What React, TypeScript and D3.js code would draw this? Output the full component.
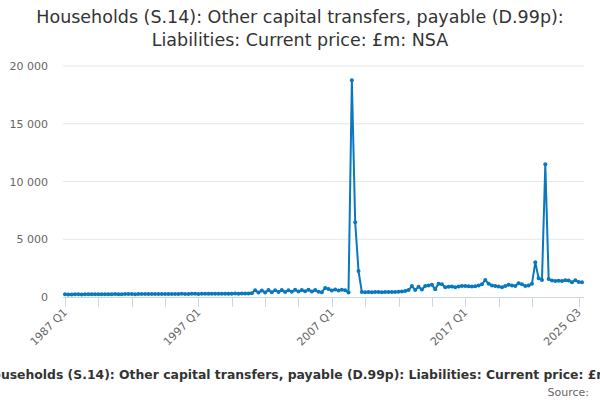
import React from "react";
import * as d3 from "d3";

const values: number[] = [
  // 1987-1991 (idx 0-19)
  230, 220, 225, 230, 235, 225, 230, 240, 235, 230, 240, 245, 235, 240, 245, 250, 240, 245, 250, 255,
  // idx 20-39
  250, 245, 255, 260, 250, 255, 260, 265, 255, 260, 265, 270, 260, 265, 270, 275, 265, 270, 275, 280,
  // idx 40-55
  270, 275, 280, 285, 275, 280, 285, 290, 280, 285, 290, 300, 290, 295, 300, 310,
  // idx 56-85
  320, 580, 380, 560, 400, 600, 420, 580, 440, 600, 430, 580, 460, 620, 470, 600, 500, 620, 480, 600,
  450, 420, 780, 700, 560, 640, 560, 620, 580, 400,
  // idx 86-100
  18760, 6470, 2250, 430, 420, 430, 420, 440, 430, 420, 430, 440, 430, 440, 450,
  // idx 101-124
  480, 520, 600, 950, 600, 880, 650, 950, 1000, 1050, 680, 1150, 1100, 850, 880, 900, 850, 900, 950, 950,
  920, 900, 920, 1000,
  // idx 125-154
  1100, 1480, 1150, 1000, 950, 900, 850, 950, 1050, 1000, 950, 1200, 1100, 950, 1000, 1150, 3000, 1620, 1480, 11490,
  1550, 1420, 1380, 1400, 1380, 1450, 1420, 1280, 1450, 1300, 1280,
];

const startYear = 1987;
const categories: string[] = values.map((_, i) => `${startYear + Math.floor(i / 4)} Q${(i % 4) + 1}`);
const yTicks: number[] = [0, 5000, 10000, 15000, 20000];
const tickIdx: number[] = [0, 10, 20, 30, 40, 50, 60, 70, 80, 90, 100, 110, 120, 130, 140, 154];
const labelIdx: number[] = [0, 40, 80, 120, 154];

const titleLines = [
  "Households (S.14): Other capital transfers, payable (D.99p):",
  "Liabilities: Current price: £m: NSA",
];
const caption =
  "Households (S.14): Other capital transfers, payable (D.99p): Liabilities: Current price: £m: NSA";

const FONT = "'DejaVu Sans', sans-serif";

export default function App() {
  const W = 600;
  const H = 400;
  const x = d3.scaleLinear().domain([0, values.length - 1]).range([65, 582]);
  const y = d3.scaleLinear().domain([0, 20000]).range([297, 66]);
  const line = d3
    .line<number>()
    .x((_, i) => x(i))
    .y((d) => y(d));
  const fmt = (v: number) => d3.format(",")(v).replace(/,/g, " ");
  const color = "#0a78be";

  return (
    <svg
      width={W}
      height={H}
      style={{ position: "absolute", left: 0, top: 0, fontFamily: FONT }}
    >
      <rect width={W} height={H} fill="#fff" />
      {titleLines.map((t, i) => (
        <text key={i} x={300} y={23 + i * 22.5} textAnchor="middle" fontSize={17.5} fill="#333">
          {t}
        </text>
      ))}
      {yTicks.map((t) => (
        <g key={t}>
          {t !== 0 && (
            <line x1={63} x2={584} y1={y(t)} y2={y(t)} stroke="#e6e6e6" strokeWidth={1} />
          )}
          <text x={48} y={y(t) + 4} textAnchor="end" fontSize={11} fill="#666">
            {fmt(t)}
          </text>
        </g>
      ))}
      <line x1={63} x2={584} y1={297.5} y2={297.5} stroke="#ccd6eb" strokeWidth={1} />
      {tickIdx.map((i) => (
        <line
          key={i}
          x1={Math.round(x(i)) + 0.5}
          x2={Math.round(x(i)) + 0.5}
          y1={297}
          y2={307}
          stroke="#ccd6eb"
          strokeWidth={1}
        />
      ))}
      {labelIdx.map((i) => (
        <text
          key={i}
          transform={`translate(${x(i) + 3},${313}) rotate(-45)`}
          textAnchor="end"
          fontSize={11}
          fill="#666"
        >
          {categories[i]}
        </text>
      ))}
      <path d={line(values) || ""} fill="none" stroke={color} strokeWidth={2} strokeLinejoin="round" />
      {values.map((v, i) => (
        <circle key={i} cx={x(i)} cy={y(v)} r={2} fill={color} />
      ))}
      <text x={-18} y={379} fontSize={12.4} fontWeight="bold" fill="#333">
        {caption}
      </text>
      <text x={589} y={396} textAnchor="end" fontSize={11} fill="#666">
        Source:
      </text>
    </svg>
  );
}
